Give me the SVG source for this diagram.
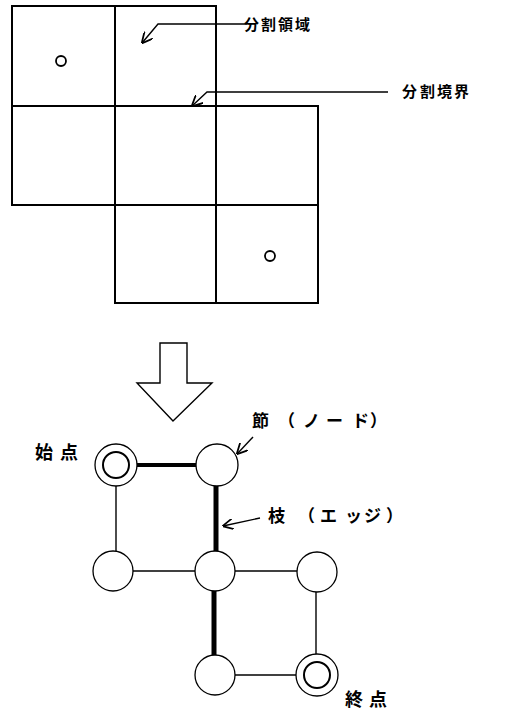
<svg xmlns="http://www.w3.org/2000/svg" width="506" height="712" viewBox="0 0 506 712">
<style>
.cell{fill:none;stroke:#000;stroke-width:2}
.dot{fill:none;stroke:#000;stroke-width:1.8}
.node{fill:#fff;stroke:#000;stroke-width:1.3}
.thin{stroke:#000;stroke-width:1.4;fill:none}
.thick{stroke:#000;stroke-width:5;fill:none}
.lead{stroke:#000;stroke-width:1.4;fill:none}
.lbl{font-family:"Noto Sans CJK JP","Noto Sans CJK SC",sans-serif;font-weight:700;fill:#000}
</style>
<defs>
<marker id="arr" viewBox="0 0 10 10" refX="9.5" refY="5" markerWidth="11" markerHeight="11" markerUnits="userSpaceOnUse" orient="auto">
<path d="M0,0 L10,5 L0,10" fill="none" stroke="#000" stroke-width="1.6"/>
</marker>
</defs>
<rect width="506" height="712" fill="#fff"/>
<g id="grid">
<rect class="cell" x="12" y="6" width="103" height="100"/>
<rect class="cell" x="115" y="6" width="101" height="100"/>
<rect class="cell" x="12" y="106" width="103" height="99"/>
<rect class="cell" x="115" y="106" width="101" height="99"/>
<rect class="cell" x="216" y="106" width="102" height="99"/>
<rect class="cell" x="115" y="205" width="101" height="98"/>
<rect class="cell" x="216" y="205" width="102" height="98"/>
<circle class="dot" cx="61" cy="61" r="5"/>
<circle class="dot" cx="270" cy="256" r="5"/>
</g>
<g id="big-arrow">
<path d="M160,343 H187 V383 H212 L173,421 L137,383 H160 Z" fill="none" stroke="#000" stroke-width="1.4"/>
</g>
<g id="connectors">
<path class="lead" d="M247,24 H158 L142,43" marker-end="url(#arr)"/>
<path class="lead" d="M388,92 H207 L192,106" marker-end="url(#arr)"/>
<line class="lead" x1="253" y1="437" x2="237" y2="454" marker-end="url(#arr)"/>
<line class="lead" x1="260" y1="518" x2="223" y2="526" marker-end="url(#arr)"/>
<line class="thick" x1="137" y1="465" x2="196" y2="465" style="stroke-width:4"/>
<line class="thin" x1="116" y1="486" x2="116" y2="551"/>
<line class="thick" x1="216" y1="486" x2="216" y2="551"/>
<line class="thin" x1="133" y1="571" x2="195" y2="571"/>
<line class="thin" x1="235" y1="571" x2="297" y2="571"/>
<line class="thick" x1="214" y1="591" x2="214" y2="655"/>
<line class="thin" x1="316" y1="592" x2="316" y2="654"/>
<line class="thin" x1="235" y1="675" x2="296" y2="675"/>
</g>
<g id="node-start">
<circle class="node" cx="116" cy="465" r="21"/>
<circle class="node" cx="116" cy="465" r="13" style="stroke-width:2"/>
</g>
<g id="node-top-right"><circle class="node" cx="217" cy="465" r="21"/></g>
<g id="node-mid-left"><circle class="node" cx="113" cy="571" r="20"/></g>
<g id="node-mid-center"><circle class="node" cx="215" cy="571" r="20"/></g>
<g id="node-mid-right"><circle class="node" cx="317" cy="572" r="20"/></g>
<g id="node-bottom-left"><circle class="node" cx="215" cy="675" r="20"/></g>
<g id="node-end">
<circle class="node" cx="317" cy="675" r="21"/>
<circle class="node" cx="317" cy="675" r="13" style="stroke-width:2"/>
</g>
<g id="labels">
<text class="lbl" font-size="15" x="244 261 278 295" y="30">分割領域</text>
<text class="lbl" font-size="15" x="402 420 437 454" y="97">分割境界</text>
<text class="lbl" font-size="18" x="35 60" y="459">始点</text>
<text class="lbl" font-size="17" x="252 278 303 326 352 370" y="427">節（ノード）</text>
<text class="lbl" font-size="17" x="268 298 320 345 364 386" y="522">枝（エッジ）</text>
<text class="lbl" font-size="18" x="345 369" y="706">終点</text>
</g>
</svg>
